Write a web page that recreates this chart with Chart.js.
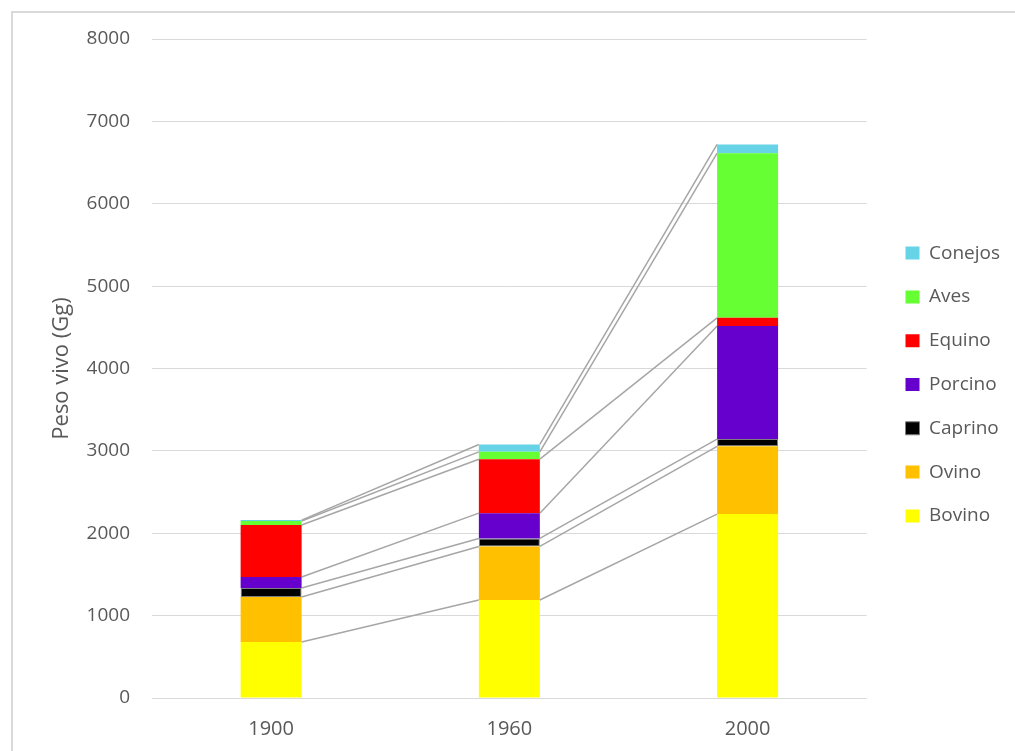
<!DOCTYPE html>
<html lang="es">
<head>
  <meta charset="UTF-8">
  <title>Peso vivo (Gg)</title>
  <script src="https://cdn.jsdelivr.net/npm/chart.js@4"></script>
  <style>
    body { margin: 0; background: #fff; }
    .frame { position: absolute; left: 11px; top: 11px; width: 1100px; height: 800px; border: 2px solid #d9d9d9; }
    .wrap { position: absolute; left: 0; top: 0; width: 1015px; height: 751px; }
  </style>
</head>
<body>
  <div class="frame"></div>
  <div class="wrap"><canvas id="chart"></canvas></div>

  <script>
    // Datos (Gg de peso vivo)
    const years   = ['1900', '1960', '2000'];
    const bovino  = [680, 1190, 2233];
    const ovino   = [546, 650, 822];
    const caprino = [109, 97, 88];
    const porcino = [133, 307, 1372];
    const equino  = [632, 655, 100];
    const aves    = [48, 89, 1999];
    const conejos = [12, 90, 106];
    const yMax = 8000;
    const yStep = 1000;

    const FONT = "'Open Sans', sans-serif";
    const GREY = '#595959';

    // líneas de serie entre columnas apiladas (como en Excel)
    const seriesLines = {
      id: 'seriesLines',
      afterLayout(chart) {
        // sube un poco la leyenda para centrarla como en el original
        chart.legend.top -= 6;
        chart.legend.bottom -= 6;
      },
      beforeDatasetsDraw(chart) {
        const ctx = chart.ctx;
        ctx.save();
        ctx.strokeStyle = '#a6a6a6';
        ctx.lineWidth = 1.5;
        chart.data.datasets.forEach((ds, i) => {
          const bars = chart.getDatasetMeta(i).data;
          for (let j = 0; j < bars.length - 1; j++) {
            const a = bars[j], b = bars[j + 1];
            ctx.beginPath();
            ctx.moveTo(a.x + a.width / 2, a.y);
            ctx.lineTo(b.x - b.width / 2, b.y);
            ctx.stroke();
          }
        });
        ctx.restore();
      }
    };

    function ds(label, data, color, extra) {
      return Object.assign({
        label: label,
        data: data,
        backgroundColor: color,
        borderWidth: 0,
        categoryPercentage: 0.256,
        barPercentage: 1
      }, extra || {});
    }

    new Chart(document.getElementById('chart'), {
      type: 'bar',
      data: {
        labels: years,
        datasets: [
          ds('Bovino', bovino, '#ffff00'),
          ds('Ovino', ovino, '#ffc000'),
          ds('Caprino', caprino, '#000000', { borderWidth: 1, borderColor: '#7f7f7f', borderSkipped: false }),
          ds('Porcino', porcino, '#6600cc'),
          ds('Equino', equino, '#ff0000'),
          ds('Aves', aves, '#66ff33'),
          ds('Conejos', conejos, '#66d3e6')
        ]
      },
      options: {
        responsive: true,
        maintainAspectRatio: false,
        animation: false,
        layout: { padding: { top: 39, left: 49, right: 5, bottom: 9 } },
        plugins: {
          tooltip: { enabled: false },
          legend: {
            position: 'right',
            reverse: true,
            labels: {
              color: GREY,
              font: { family: FONT, size: 19 },
              boxWidth: 14,
              boxHeight: 13,
              padding: 24.8
            }
          }
        },
        scales: {
          x: {
            stacked: true,
            grid: { display: false, drawTicks: false },
            border: { display: false },
            ticks: { color: GREY, font: { family: FONT, size: 20 }, padding: 19 },
            afterFit(s) { s.height = 44; }
          },
          y: {
            stacked: true,
            min: 0,
            max: yMax,
            grid: { color: '#d9d9d9', lineWidth: 1, drawTicks: false },
            border: { display: false },
            ticks: {
              stepSize: yStep,
              color: GREY,
              font: { family: FONT, size: 19 },
              padding: 22,
              callback: v => String(v)
            },
            title: {
              display: true,
              text: 'Peso vivo (Gg)',
              color: GREY,
              font: { family: FONT, size: 22 },
              padding: { top: 0, bottom: 0 }
            },
            afterFit(s) { s.width = 103; }
          },
          gap: {
            type: 'linear',
            position: 'right',
            grid: { display: false, drawTicks: false },
            border: { display: false },
            ticks: { display: false },
            afterFit(s) { s.width = 14; }
          }
        }
      },
      plugins: [seriesLines]
    });
  </script>
</body>
</html>
